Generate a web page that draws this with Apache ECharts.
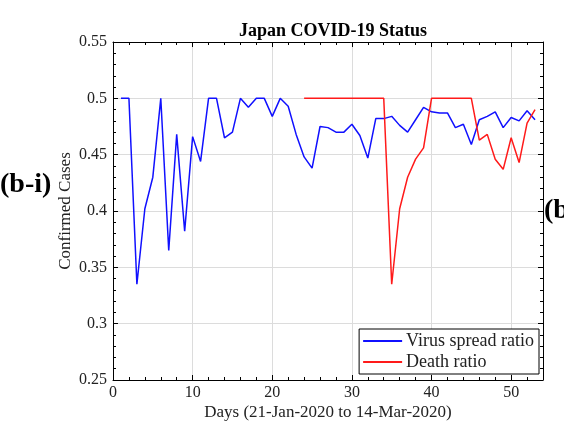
<!DOCTYPE html>
<html>
<head>
<meta charset="utf-8">
<script src="https://cdn.jsdelivr.net/npm/echarts@6/dist/echarts.min.js"></script>
<style>html,body{margin:0;padding:0;background:#fff;}#c{width:564px;height:433px;}</style>
</head>
<body>
<div id="c"></div>
<script>
const titleText = 'Japan COVID-19 Status';
const xName = 'Days (21-Jan-2020 to 14-Mar-2020)';
const yName = 'Confirmed Cases';
const seriesNames = ['Virus spread ratio', 'Death ratio'];

const virusDays = [1,2,3,4,5,6,7,8,9,10,11,12,13,14,15,16,17,18,19,20,21,22,23,24,25,26,27,28,29,30,31,32,33,34,35,36,37,38,39,40,41,42,43,44,45,46,47,48,49,50,51,52,53];
const virusValues = [0.5,0.5,0.335,0.402,0.43,0.5,0.365,0.468,0.382,0.466,0.444,0.5,0.5,0.465,0.47,0.5,0.492,0.5,0.5,0.484,0.5,0.493,0.468,0.448,0.438,0.475,0.474,0.47,0.47,0.477,0.467,0.447,0.482,0.482,0.484,0.476,0.47,0.481,0.492,0.488,0.487,0.487,0.474,0.477,0.459,0.481,0.484,0.488,0.474,0.483,0.48,0.489,0.481];

const deathDays = [24,25,26,27,28,29,30,31,32,33,34,35,36,37,38,39,40,41,42,43,44,45,46,47,48,49,50,51,52,53];
const deathValues = [0.5,0.5,0.5,0.5,0.5,0.5,0.5,0.5,0.5,0.5,0.5,0.335,0.402,0.43,0.446,0.456,0.5,0.5,0.5,0.5,0.5,0.5,0.463,0.468,0.446,0.437,0.465,0.443,0.478,0.49];

const font = 'Liberation Serif, Times New Roman, serif';
const chart = echarts.init(document.getElementById('c'), null, {renderer: 'canvas'});

const boxAxisX = {
  type: 'value', min: 0, max: 54, interval: 10,
  axisLine: {show: true, onZero: false, lineStyle: {color: '#000', width: 1}},
  axisTick: {show: true, inside: true, length: 5, lineStyle: {color: '#000'}},
  minorTick: {show: true, splitNumber: 5, length: 3, lineStyle: {color: '#000'}},
  splitLine: {show: false},
  axisLabel: {show: false}
};
const boxAxisY = {
  type: 'value', min: 0.25, max: 0.55, interval: 0.05,
  axisLine: {show: true, onZero: false, lineStyle: {color: '#000', width: 1}},
  axisTick: {show: true, inside: true, length: 5, lineStyle: {color: '#000'}},
  minorTick: {show: true, splitNumber: 5, length: 3, lineStyle: {color: '#000'}},
  splitLine: {show: false},
  axisLabel: {show: false}
};

chart.setOption({
  animation: false,
  backgroundColor: '#fff',
  title: {
    text: titleText, left: 328, top: 17, textAlign: 'center',
    textStyle: {fontFamily: font, fontSize: 18, fontWeight: 'bold', color: '#000'}
  },
  grid: {left: 113, right: 21, top: 42, bottom: 53, containLabel: false},
  legend: {
    data: seriesNames,
    orient: 'vertical',
    right: 25, bottom: 59,
    itemWidth: 39, itemHeight: 2, itemGap: 3,
    padding: [3, 5, 3, 4],
    backgroundColor: '#fff',
    borderColor: '#000', borderWidth: 1,
    textStyle: {fontFamily: font, fontSize: 18, color: '#222', padding: [0, 0, 0, -1]},
    icon: 'rect'
  },
  xAxis: [
    {
      type: 'value', min: 0, max: 54, interval: 10,
      name: xName, nameLocation: 'middle', nameGap: 24, nameMoveOverlap: false,
      nameTextStyle: {fontFamily: font, fontSize: 17, color: '#222'},
      axisLine: {show: true, onZero: false, lineStyle: {color: '#000', width: 1}},
      axisTick: {show: true, inside: true, length: 5, lineStyle: {color: '#000'}},
      minorTick: {show: true, splitNumber: 5, length: 3, lineStyle: {color: '#000'}},
      splitLine: {show: true, lineStyle: {color: '#dcdcdc', width: 1}},
      axisLabel: {fontFamily: font, fontSize: 16, color: '#222', margin: 5,
        showMaxLabel: false}
    },
    Object.assign({position: 'top'}, boxAxisX)
  ],
  yAxis: [
    {
      type: 'value', min: 0.25, max: 0.55, interval: 0.05,
      name: yName, nameLocation: 'middle', nameGap: 39, nameMoveOverlap: false,
      nameTextStyle: {fontFamily: font, fontSize: 17, color: '#222'},
      axisLine: {show: true, onZero: false, lineStyle: {color: '#000', width: 1}},
      axisTick: {show: true, inside: true, length: 5, lineStyle: {color: '#000'}},
      minorTick: {show: true, splitNumber: 5, length: 3, lineStyle: {color: '#000'}},
      splitLine: {show: true, lineStyle: {color: '#dcdcdc', width: 1}},
      axisLabel: {fontFamily: font, fontSize: 16, color: '#222', margin: 6,
        formatter: v => String(parseFloat(v.toFixed(2)))}
    },
    Object.assign({position: 'right'}, boxAxisY)
  ],
  series: [
    {
      name: seriesNames[0], type: 'line', xAxisIndex: 0, yAxisIndex: 0,
      data: virusDays.map((d, i) => [d, virusValues[i]]),
      symbol: 'none', lineStyle: {color: '#1010ff', width: 1.5}, itemStyle: {color: '#1010ff'}
    },
    {
      name: seriesNames[1], type: 'line', xAxisIndex: 0, yAxisIndex: 0,
      data: deathDays.map((d, i) => [d, deathValues[i]]),
      symbol: 'none', lineStyle: {color: '#ff1a1a', width: 1.5}, itemStyle: {color: '#ff1a1a'}
    }
  ],
  graphic: [
    {type: 'text', left: 0, top: 171,
      style: {text: '(b-i)', font: 'bold 28px ' + font, fill: '#000'}},
    {type: 'text', left: 544, top: 197,
      style: {text: '(b', font: 'bold 28px ' + font, fill: '#000'}}
  ]
});
</script>
</body>
</html>
